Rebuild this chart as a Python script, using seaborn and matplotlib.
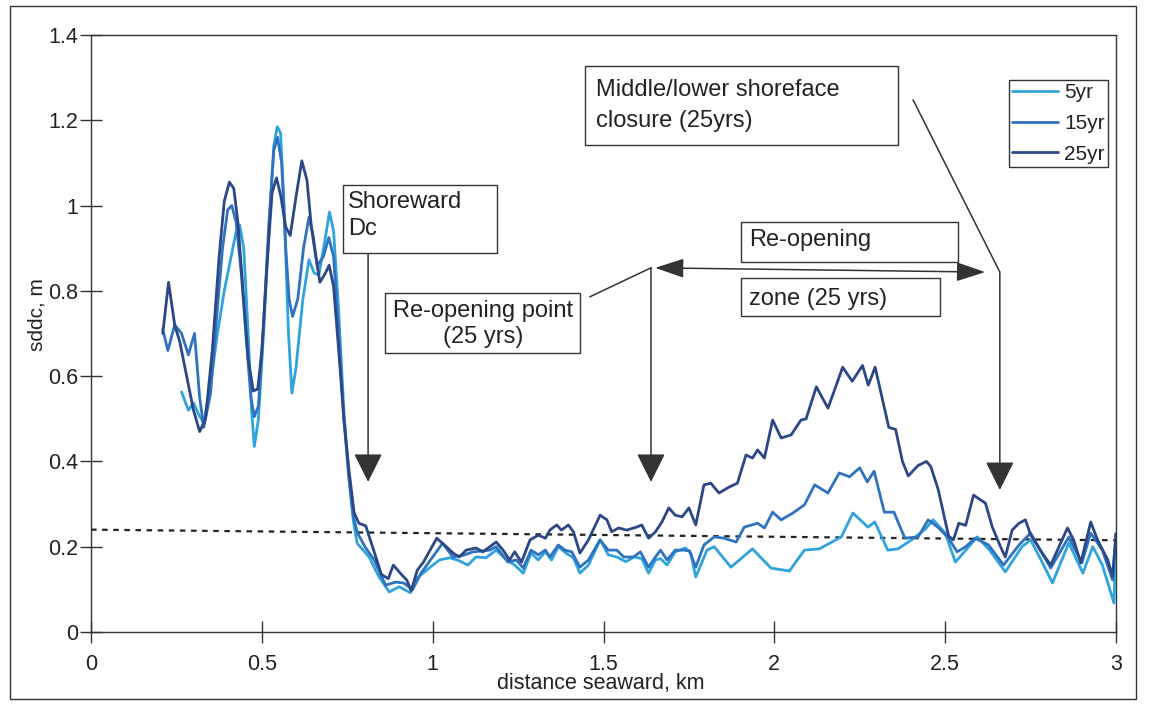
import matplotlib
matplotlib.use("Agg")
import matplotlib.pyplot as plt
from matplotlib.patches import Rectangle
import pandas as pd
import seaborn as sns

# ---- sddc profiles, distance seaward (km) vs sddc (m) ----
dist_25yr = [
    0.210, 0.227, 0.245, 0.260, 0.280, 0.300, 0.318, 0.335, 0.355, 0.375,
    0.390, 0.405, 0.418, 0.430, 0.445, 0.460, 0.475, 0.488, 0.500, 0.515,
    0.530, 0.543, 0.556, 0.570, 0.583, 0.600, 0.617, 0.632, 0.645, 0.656,
    0.670, 0.685, 0.697, 0.710, 0.725, 0.740, 0.755, 0.770, 0.784, 0.804,
    0.824, 0.850, 0.870, 0.885, 0.905, 0.924, 0.937, 0.955, 0.973, 1.012,
    1.040, 1.060, 1.078, 1.098, 1.127, 1.147, 1.186, 1.206, 1.225, 1.240,
    1.260, 1.285, 1.309, 1.330, 1.343, 1.363, 1.377, 1.397, 1.412, 1.431,
    1.456, 1.490, 1.510, 1.524, 1.544, 1.568, 1.597, 1.612, 1.632, 1.652,
    1.671, 1.691, 1.710, 1.730, 1.750, 1.770, 1.794, 1.814, 1.838, 1.868,
    1.892, 1.917, 1.936, 1.951, 1.971, 1.995, 2.020, 2.049, 2.078, 2.093,
    2.123, 2.157, 2.176, 2.200, 2.228, 2.258, 2.275, 2.295, 2.315, 2.335,
    2.355, 2.375, 2.392, 2.420, 2.445, 2.458, 2.480, 2.510, 2.524, 2.540,
    2.560, 2.583, 2.618, 2.638, 2.662, 2.676, 2.696, 2.716, 2.735, 2.750,
    2.784, 2.809, 2.833, 2.858, 2.876, 2.897, 2.926, 2.946, 2.976, 2.990,
    3.000,
]
sddc_25yr = [
    0.70, 0.82, 0.72, 0.68, 0.60, 0.52, 0.47, 0.50, 0.66, 0.88,
    1.01, 1.055, 1.04, 0.96, 0.80, 0.64, 0.565, 0.57, 0.66, 0.86,
    1.03, 1.065, 1.02, 0.95, 0.93, 1.02, 1.105, 1.06, 0.95, 0.89,
    0.82, 0.84, 0.86, 0.81, 0.66, 0.50, 0.38, 0.28, 0.255, 0.249,
    0.20, 0.135, 0.125, 0.157, 0.138, 0.122, 0.097, 0.145, 0.164, 0.22,
    0.20, 0.185, 0.176, 0.192, 0.197, 0.188, 0.211, 0.192, 0.169, 0.188,
    0.164, 0.216, 0.227, 0.22, 0.239, 0.251, 0.239, 0.251, 0.235, 0.185,
    0.216, 0.274, 0.263, 0.235, 0.244, 0.239, 0.246, 0.251, 0.22, 0.235,
    0.258, 0.291, 0.274, 0.27, 0.291, 0.251, 0.345, 0.349, 0.326, 0.34,
    0.349, 0.415, 0.408, 0.427, 0.408, 0.497, 0.455, 0.462, 0.497, 0.50,
    0.575, 0.525, 0.567, 0.621, 0.588, 0.625, 0.579, 0.621, 0.55, 0.48,
    0.475, 0.40, 0.366, 0.39, 0.40, 0.388, 0.333, 0.225, 0.216, 0.255,
    0.25, 0.321, 0.302, 0.246, 0.20, 0.176, 0.239, 0.255, 0.263, 0.228,
    0.185, 0.157, 0.20, 0.244, 0.216, 0.162, 0.258, 0.216, 0.169, 0.13,
    0.23,
]

dist_15yr = [
    0.210, 0.225, 0.245, 0.265, 0.285, 0.303, 0.318, 0.330, 0.350, 0.370,
    0.385, 0.400, 0.412, 0.425, 0.440, 0.455, 0.468, 0.478, 0.490, 0.505,
    0.520, 0.535, 0.546, 0.558, 0.570, 0.580, 0.590, 0.605, 0.622, 0.638,
    0.650, 0.662, 0.680, 0.696, 0.710, 0.725, 0.740, 0.755, 0.768, 0.780,
    0.804, 0.829, 0.862, 0.892, 0.915, 0.941, 0.966, 1.000, 1.029, 1.059,
    1.090, 1.118, 1.145, 1.167, 1.186, 1.220, 1.245, 1.265, 1.288, 1.309,
    1.330, 1.343, 1.368, 1.387, 1.407, 1.431, 1.456, 1.490, 1.514, 1.539,
    1.559, 1.588, 1.608, 1.632, 1.652, 1.667, 1.686, 1.710, 1.735, 1.752,
    1.770, 1.794, 1.824, 1.853, 1.888, 1.912, 1.951, 1.971, 1.995, 2.020,
    2.054, 2.088, 2.118, 2.157, 2.190, 2.220, 2.250, 2.272, 2.292, 2.322,
    2.350, 2.382, 2.421, 2.450, 2.480, 2.510, 2.535, 2.560, 2.588, 2.627,
    2.671, 2.716, 2.750, 2.780, 2.809, 2.862, 2.900, 2.926, 2.960, 2.990,
    3.000,
]
sddc_15yr = [
    0.71, 0.66, 0.72, 0.70, 0.65, 0.70, 0.55, 0.48, 0.56, 0.76,
    0.90, 0.99, 1.00, 0.96, 0.84, 0.68, 0.55, 0.505, 0.53, 0.72,
    0.95, 1.13, 1.16, 1.10, 0.90, 0.78, 0.74, 0.78, 0.90, 0.973,
    0.93, 0.86, 0.88, 0.925, 0.88, 0.70, 0.50, 0.36, 0.27, 0.232,
    0.197, 0.169, 0.11, 0.117, 0.115, 0.099, 0.138, 0.176, 0.208, 0.176,
    0.18, 0.188, 0.19, 0.192, 0.20, 0.164, 0.169, 0.15, 0.192, 0.181,
    0.192, 0.176, 0.204, 0.192, 0.188, 0.152, 0.169, 0.216, 0.192, 0.192,
    0.176, 0.176, 0.188, 0.152, 0.176, 0.192, 0.169, 0.192, 0.192, 0.19,
    0.152, 0.204, 0.223, 0.22, 0.211, 0.246, 0.255, 0.244, 0.281, 0.263,
    0.279, 0.298, 0.345, 0.326, 0.373, 0.364, 0.385, 0.352, 0.377, 0.281,
    0.281, 0.22, 0.223, 0.263, 0.245, 0.22, 0.188, 0.20, 0.22, 0.204,
    0.157, 0.204, 0.232, 0.19, 0.15, 0.223, 0.162, 0.232, 0.192, 0.122,
    0.23,
]

dist_5yr = [
    0.265, 0.285, 0.300, 0.315, 0.330, 0.350, 0.370, 0.390, 0.410, 0.425,
    0.435, 0.447, 0.460, 0.470, 0.478, 0.490, 0.505, 0.520, 0.535, 0.545,
    0.555, 0.565, 0.578, 0.588, 0.600, 0.620, 0.638, 0.653, 0.667, 0.685,
    0.698, 0.710, 0.725, 0.740, 0.755, 0.768, 0.779, 0.814, 0.843, 0.873,
    0.902, 0.935, 0.955, 0.990, 1.020, 1.050, 1.075, 1.103, 1.127, 1.156,
    1.186, 1.216, 1.240, 1.265, 1.288, 1.309, 1.330, 1.348, 1.368, 1.390,
    1.412, 1.431, 1.456, 1.490, 1.514, 1.539, 1.565, 1.590, 1.612, 1.632,
    1.652, 1.667, 1.686, 1.710, 1.740, 1.755, 1.770, 1.803, 1.824, 1.873,
    1.936, 1.990, 2.044, 2.088, 2.132, 2.196, 2.230, 2.274, 2.294, 2.332,
    2.362, 2.400, 2.440, 2.465, 2.500, 2.530, 2.594, 2.630, 2.676, 2.725,
    2.750, 2.780, 2.814, 2.862, 2.903, 2.932, 2.960, 2.994, 3.000,
]
sddc_5yr = [
    0.563, 0.52, 0.537, 0.51, 0.49, 0.58, 0.70, 0.80, 0.88, 0.94,
    0.955, 0.90, 0.70, 0.52, 0.435, 0.50, 0.70, 0.93, 1.14, 1.185,
    1.17, 1.00, 0.70, 0.56, 0.62, 0.78, 0.873, 0.842, 0.837, 0.92,
    0.985, 0.94, 0.75, 0.52, 0.36, 0.26, 0.208, 0.176, 0.129, 0.094,
    0.106, 0.092, 0.127, 0.15, 0.169, 0.174, 0.168, 0.157, 0.176, 0.174,
    0.192, 0.169, 0.157, 0.138, 0.185, 0.169, 0.188, 0.169, 0.20, 0.185,
    0.174, 0.138, 0.157, 0.216, 0.181, 0.176, 0.165, 0.176, 0.172, 0.138,
    0.169, 0.172, 0.157, 0.188, 0.197, 0.185, 0.129, 0.192, 0.20, 0.152,
    0.195, 0.15, 0.143, 0.192, 0.195, 0.223, 0.279, 0.246, 0.258, 0.192,
    0.195, 0.215, 0.24, 0.263, 0.232, 0.164, 0.223, 0.192, 0.141, 0.20,
    0.216, 0.17, 0.115, 0.209, 0.138, 0.20, 0.157, 0.068, 0.232,
]

# reference depth-of-closure level (dashed)
dc_dist = [0.0, 3.0]
dc_level = [0.24, 0.215]

series_names = ["5yr", "15yr", "25yr"]
x_ticks = [0, 0.5, 1, 1.5, 2, 2.5, 3]
x_tick_labels = ["0", "0.5", "1", "1.5", "2", "2.5", "3"]
y_ticks = [0, 0.2, 0.4, 0.6, 0.8, 1.0, 1.2, 1.4]
y_tick_labels = ["0", "0.2", "0.4", "0.6", "0.8", "1", "1.2", "1.4"]

sns.set_theme(style="white")
plt.rcParams["font.family"] = ["Liberation Sans", "DejaVu Sans"]

INK = "#222222"
EDGE = "#333333"
W, H = 1152, 704
fig = plt.figure(figsize=(W / 100, H / 100), dpi=100)
fig.patch.set_facecolor("white")


def fpx(x, y):
    """pixel position (from top-left) -> figure fraction"""
    return x / W, 1 - y / H


ax = fig.add_axes([91 / W, 1 - 632 / H, (1116 - 91) / W, (632 - 35) / H])

df = pd.concat(
    [
        pd.DataFrame({"distance": d, "sddc": s, "run": n})
        for n, d, s in zip(series_names,
                           [dist_5yr, dist_15yr, dist_25yr],
                           [sddc_5yr, sddc_15yr, sddc_25yr])
    ],
    ignore_index=True,
)
palette = {"5yr": "#2FA3DD", "15yr": "#2F72BF", "25yr": "#2C4786"}
sns.lineplot(data=df, x="distance", y="sddc", hue="run", hue_order=series_names,
             palette=palette, estimator=None, sort=False, linewidth=2.0,
             ax=ax, zorder=3)
for ln in ax.get_lines():
    ln.set_solid_joinstyle("round")

ax.plot(dc_dist, dc_level, color=INK, lw=1.6, dashes=(2.5, 2.5), zorder=2)

ax.set_xlim(0, 3)
ax.set_ylim(0, 1.4)
ax.set_xticks(x_ticks)
ax.set_xticklabels(x_tick_labels)
ax.set_yticks(y_ticks)
ax.set_yticklabels(y_tick_labels)
ax.tick_params(left=True, bottom=True, direction="inout", length=16, width=1,
               color=EDGE, labelsize=15.5, labelcolor=INK, pad=1.5)
ax.tick_params(axis="x", pad=8)
for sp in ax.spines.values():
    sp.set_visible(True)
    sp.set_color(EDGE)
    sp.set_linewidth(1.0)

ax.set_xlabel("distance seaward, km", fontsize=15.5, color=INK)
ax.xaxis.set_label_coords(0.4976, -0.069)
ax.set_ylabel("sddc, m", fontsize=15, color=INK)
ax.yaxis.set_label_coords(-0.043, 0.531)

sns.move_legend(ax, "upper right", bbox_to_anchor=fpx(1108, 80),
                bbox_transform=fig.transFigure, title=None, frameon=True,
                fontsize=15, handlelength=2.2, handletextpad=0.32,
                labelspacing=0.57, borderpad=0.14, borderaxespad=0,
                fancybox=False, edgecolor=EDGE, framealpha=1)
leg = ax.get_legend()
leg.get_frame().set_linewidth(1.0)
for h in leg.get_lines():
    h.set_linewidth(2.0)
for t in leg.get_texts():
    t.set_color(INK)

# ---- annotation boxes (figure pixel layout) ----
def box(x0, y0, x1, y1):
    fig.add_artist(Rectangle(fpx(x0, y1), (x1 - x0) / W, (y1 - y0) / H,
                             transform=fig.transFigure, facecolor="white",
                             edgecolor=EDGE, lw=1.0, zorder=5))


def label(x, y, s, ha="left"):
    fig.text(*fpx(x, y), s, ha=ha, va="baseline", fontsize=17,
             color=INK, zorder=6)


box(343, 185, 497, 253)
label(348, 208, "Shoreward")
label(348, 235, "Dc")

box(385, 293, 580, 353)
label(483, 317, "Re-opening point", ha="center")
label(483, 343, "(25 yrs)", ha="center")

box(741, 222, 958, 262)
label(749, 246, "Re-opening")

box(741, 278, 940, 316)
label(749, 305, "zone (25 yrs)")

box(585, 66, 898, 145)
label(596, 96, "Middle/lower shoreface")
label(596, 127, "closure (25yrs)")

# ---- pointer lines and arrows (data coordinates) ----
down = dict(arrowstyle="-|>,head_length=1.0,head_width=0.5", mutation_scale=18,
            color=EDGE, lw=1.1, shrinkA=0, shrinkB=0)
plain = dict(arrowstyle="-", color=EDGE, lw=1.1, shrinkA=0, shrinkB=0)
both = dict(arrowstyle="<|-|>,head_length=1.2,head_width=0.4", mutation_scale=15,
            color=EDGE, lw=1.1, shrinkA=0, shrinkB=0)

ax.annotate("", xy=(0.811, 0.352), xytext=(0.811, 0.889), arrowprops=down,
            annotation_clip=False)
ax.annotate("", xy=(1.639, 0.854), xytext=(1.46, 0.786), arrowprops=plain,
            annotation_clip=False)
ax.annotate("", xy=(1.639, 0.352), xytext=(1.639, 0.854), arrowprops=down,
            annotation_clip=False)
ax.annotate("", xy=(2.66, 0.844), xytext=(2.406, 1.248), arrowprops=plain,
            annotation_clip=False)
ax.annotate("", xy=(2.66, 0.333), xytext=(2.66, 0.844), arrowprops=down,
            annotation_clip=False)
ax.annotate("", xy=(2.617, 0.844), xytext=(1.651, 0.854), arrowprops=both,
            annotation_clip=False)

# outer chart frame
fig.add_artist(Rectangle(fpx(10, 699), (1136 - 10) / W, (699 - 6) / H,
                         transform=fig.transFigure, fill=False,
                         edgecolor=EDGE, lw=1.0, zorder=0))

fig.savefig("out.png", dpi=100, facecolor="white")
